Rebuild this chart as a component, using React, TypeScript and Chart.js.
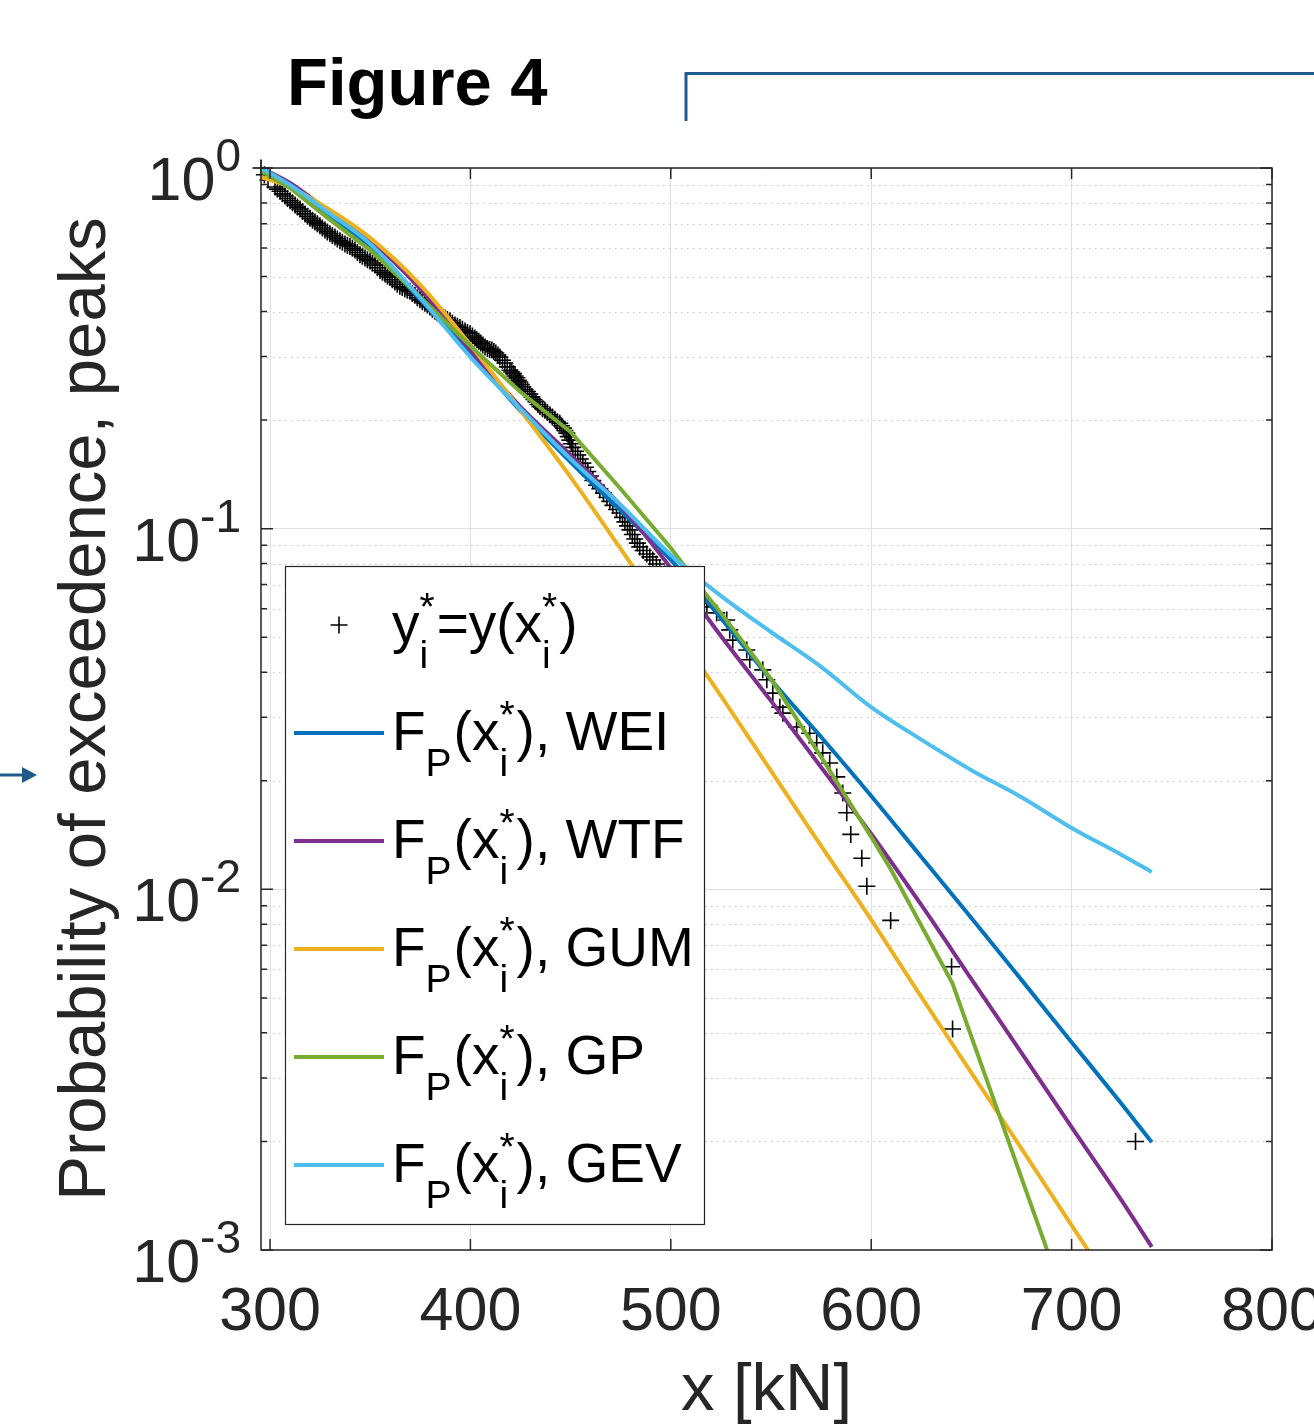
import React, { useEffect, useRef } from "react";
import { Chart, registerables } from "chart.js";

Chart.register(...registerables);

const FONT = '"Liberation Sans", Arial, Helvetica, sans-serif';

// ---- axes ----
const xTicks = [300, 400, 500, 600, 700, 800];
const xMin = 295.5;
const xMax = 800;
const yMajorTicks = [0.001, 0.01, 0.1, 1];
const yTickExponents = ["-3", "-2", "-1", "0"];
const yMinorMultipliers = [2, 3, 4, 5, 6, 7, 8, 9];

// ---- empirical exceedance points y_i* = y(x_i*), as [x, y] ----
const empXY: [number, number][] = [
  [295.5, 1.0], [297.2, 0.958], [299.0, 0.926], [302.5, 0.886], [303.7, 0.874],
  [305.0, 0.862], [306.2, 0.848], [307.5, 0.836], [308.7, 0.823], [310.0, 0.811],
  [311.2, 0.801], [312.5, 0.79], [313.7, 0.779], [315.0, 0.77], [316.2, 0.758],
  [317.5, 0.746], [318.7, 0.735], [320.0, 0.725], [321.2, 0.716], [322.4, 0.708],
  [323.6, 0.7], [324.9, 0.692], [326.1, 0.682], [327.4, 0.673], [328.6, 0.665],
  [329.9, 0.657], [331.1, 0.65], [332.4, 0.644], [333.6, 0.636], [334.9, 0.628],
  [336.1, 0.622], [337.4, 0.616], [338.6, 0.611], [339.9, 0.606], [341.1, 0.599],
  [342.4, 0.592], [343.6, 0.583], [344.9, 0.575], [346.1, 0.569], [347.4, 0.563],
  [348.6, 0.557], [349.9, 0.552], [351.1, 0.545], [352.4, 0.538], [353.6, 0.529],
  [354.9, 0.52], [356.1, 0.514], [357.4, 0.508], [358.6, 0.502], [359.8, 0.497],
  [361.0, 0.49], [362.3, 0.483], [363.5, 0.476], [364.8, 0.47], [366.0, 0.466],
  [367.3, 0.462], [368.5, 0.458], [369.8, 0.455], [371.0, 0.449], [372.3, 0.444],
  [373.5, 0.437], [374.8, 0.431], [376.0, 0.426], [377.3, 0.422], [378.5, 0.417],
  [379.8, 0.412], [381.0, 0.406], [382.3, 0.401], [383.5, 0.396], [384.8, 0.392],
  [386.0, 0.388], [387.3, 0.384], [388.5, 0.38], [389.8, 0.377], [391.0, 0.372],
  [392.3, 0.367], [393.5, 0.364], [394.8, 0.361], [396.0, 0.357], [397.3, 0.353],
  [398.5, 0.35], [399.8, 0.347], [401.0, 0.342], [402.2, 0.338], [403.2, 0.334],
  [404.2, 0.331], [405.2, 0.327], [406.2, 0.323], [407.3, 0.319], [408.5, 0.316],
  [409.6, 0.314], [410.7, 0.313], [411.7, 0.31], [412.7, 0.307], [413.7, 0.303],
  [414.7, 0.299], [416.0, 0.293], [417.2, 0.288], [418.4, 0.281], [419.7, 0.275],
  [420.6, 0.272], [421.5, 0.269], [422.3, 0.265], [423.2, 0.262], [423.9, 0.258],
  [424.7, 0.255], [425.4, 0.251], [426.2, 0.247], [427.3, 0.243], [428.5, 0.24],
  [429.6, 0.236], [430.7, 0.232], [431.7, 0.228], [432.7, 0.225], [433.7, 0.221],
  [434.7, 0.218], [436.0, 0.215], [437.2, 0.213], [438.4, 0.21], [439.7, 0.207],
  [440.9, 0.204], [442.1, 0.201], [443.3, 0.198], [444.6, 0.196], [445.5, 0.193],
  [446.4, 0.19], [447.2, 0.187], [448.1, 0.184], [448.8, 0.18], [449.6, 0.176],
  [450.3, 0.172], [451.1, 0.168], [452.4, 0.164], [453.6, 0.16], [454.9, 0.156],
  [456.1, 0.152], [457.4, 0.148], [458.6, 0.144], [459.9, 0.14], [461.1, 0.136],
  [462.9, 0.132], [464.6, 0.129], [466.4, 0.1255], [468.1, 0.122], [469.6, 0.119],
  [471.1, 0.116], [472.9, 0.113], [474.6, 0.1105], [475.9, 0.1075], [477.1, 0.1044],
  [478.4, 0.1018], [479.6, 0.0992], [480.8, 0.0963], [482.0, 0.0936], [483.3, 0.0912],
  [484.5, 0.089], [486.2, 0.087], [488.0, 0.0851], [489.5, 0.0835], [491.0, 0.0819],
  [492.8, 0.0798], [494.5, 0.0778], [497.0, 0.0749], [499.5, 0.0721], [502.0, 0.0698],
  [504.5, 0.0676], [508.2, 0.0655], [512.0, 0.0634], [515.0, 0.062], [518.0, 0.0607],
  [522.9, 0.0584], [527.9, 0.0558], [529.4, 0.0524], [530.9, 0.0491], [537.9, 0.0461],
  [539.4, 0.0433], [545.9, 0.0406], [547.9, 0.0381], [550.9, 0.035], [554.4, 0.032],
  [555.9, 0.0308], [562.8, 0.0282], [569.3, 0.0271], [572.8, 0.0255], [575.8, 0.0239],
  [579.3, 0.0224], [582.8, 0.0205], [585.8, 0.0185], [587.8, 0.0163], [589.8, 0.0142],
  [595.3, 0.0122], [597.8, 0.0102], [609.7, 0.0082], [640.1, 0.0061], [640.6, 0.0041],
  [731.9, 0.002],
];

// ---- fitted distributions F_P(x_i*) ----
const fitX = [
  295.5, 310, 330, 350, 375, 400, 425, 450, 475, 500,
  525, 550, 575, 600, 625, 650, 675, 700, 725, 740,
];
const weiY = [
  1.0, 0.903, 0.736, 0.604, 0.431, 0.305, 0.212, 0.153, 0.112, 0.0819,
  0.0565, 0.0381, 0.02644, 0.01815, 0.0123, 0.00833, 0.00561, 0.00377, 0.00254, 0.00199,
];
const wtfY = [
  1.0, 0.909, 0.755, 0.631, 0.462, 0.313, 0.2176, 0.16, 0.1156, 0.0778,
  0.0504, 0.0333, 0.0218, 0.01424, 0.00905, 0.00564, 0.00352, 0.00219, 0.00137, 0.00102,
];
const gumY = [
  0.944, 0.886, 0.765, 0.64, 0.474, 0.323, 0.213, 0.139, 0.0879, 0.0551,
  0.0344, 0.0213, 0.0132, 0.00823, 0.00503, 0.0031, 0.00191, 0.00117, 0.000722, 0.000535,
];
const gevY = [
  1.0, 0.897, 0.746, 0.616, 0.436, 0.299, 0.2147, 0.156, 0.1163, 0.0845,
  0.0651, 0.0517, 0.0414, 0.032, 0.026, 0.0214, 0.018, 0.0148, 0.01246, 0.01117,
];
const gpX = [
  295.5, 310, 330, 350, 375, 400, 425, 450, 475, 500,
  517, 525, 550, 575, 600, 609.7, 640.5, 740,
];
const gpY = [
  0.98, 0.88, 0.718, 0.592, 0.439, 0.321, 0.2393, 0.1853, 0.1288, 0.0884,
  0.0663, 0.0584, 0.0383, 0.0233, 0.01397, 0.01139, 0.0055, 0.000152,
];

const legendNames = ["WEI", "WTF", "GUM", "GP", "GEV"];
const seriesColors = ["#0072BD", "#7E2F8E", "#EDB120", "#77AC30", "#4DBEEE"];

const pts = (xs: number[], ys: number[]) => xs.map((x, i) => ({ x, y: ys[i] }));

type Part = { t?: string; sub?: string; sup?: string };

function drawRich(ctx: CanvasRenderingContext2D, x0: number, base: number, parts: Part[]) {
  const big = `55px ${FONT}`;
  const small = `39px ${FONT}`;
  let x = x0;
  ctx.textAlign = "left";
  ctx.textBaseline = "alphabetic";
  for (const p of parts) {
    if (p.t !== undefined) {
      ctx.font = big;
      ctx.fillText(p.t, x, base);
      x += ctx.measureText(p.t).width;
    } else {
      ctx.font = small;
      let w = 0;
      if (p.sub) {
        ctx.fillText(p.sub, x, base + 26);
        w = Math.max(w, ctx.measureText(p.sub).width);
      }
      if (p.sup) {
        ctx.fillText(p.sup, x, base - 22);
        w = Math.max(w, ctx.measureText(p.sup).width);
      }
      x += w + 2;
    }
  }
}

const decor = {
  id: "decor",
  beforeDatasetsDraw(chart: any) {
    const { ctx, chartArea: a, scales } = chart;
    const y = scales.y;
    ctx.save();
    ctx.beginPath();
    ctx.rect(a.left, a.top, a.right - a.left, a.bottom - a.top);
    ctx.clip();
    ctx.strokeStyle = "#c2c2c2";
    ctx.lineWidth = 1.2;
    ctx.setLineDash([1.5, 4.5]);
    for (const d of yMajorTicks.slice(0, 3)) {
      for (const m of yMinorMultipliers) {
        const py = Math.round(y.getPixelForValue(d * m)) + 0.5;
        ctx.beginPath();
        ctx.moveTo(a.left, py);
        ctx.lineTo(a.right, py);
        ctx.stroke();
      }
    }
    ctx.restore();
  },
  afterDatasetsDraw(chart: any) {
    const { ctx, chartArea: a, scales } = chart;
    const x = scales.x;
    const y = scales.y;
    ctx.save();
    ctx.strokeStyle = "#262626";
    ctx.lineWidth = 1.5;
    ctx.setLineDash([]);
    ctx.strokeRect(a.left, a.top, a.right - a.left, a.bottom - a.top);
    ctx.beginPath();
    for (const v of yMajorTicks) {
      const py = y.getPixelForValue(v);
      ctx.moveTo(a.left, py); ctx.lineTo(a.left + 12, py);
      ctx.moveTo(a.right, py); ctx.lineTo(a.right - 12, py);
    }
    for (const d of yMajorTicks.slice(0, 3)) {
      for (const m of yMinorMultipliers) {
        const py = y.getPixelForValue(d * m);
        ctx.moveTo(a.left, py); ctx.lineTo(a.left + 6, py);
        ctx.moveTo(a.right, py); ctx.lineTo(a.right - 6, py);
      }
    }
    for (const v of xTicks) {
      const px = x.getPixelForValue(v);
      ctx.moveTo(px, a.bottom); ctx.lineTo(px, a.bottom - 11);
      ctx.moveTo(px, a.top); ctx.lineTo(px, a.top + 11);
    }
    ctx.stroke();
    ctx.restore();
  },
  afterDraw(chart: any) {
    const { ctx, chartArea: a, scales } = chart;
    const x = scales.x;
    const y = scales.y;
    ctx.save();
    ctx.fillStyle = "#262626";
    ctx.textBaseline = "alphabetic";
    // y tick labels 10^n
    yMajorTicks.forEach((v, i) => {
      const py = y.getPixelForValue(v);
      const ex = yTickExponents[i];
      ctx.font = `46px ${FONT}`;
      const ew = ctx.measureText(ex).width;
      ctx.textAlign = "left";
      ctx.fillText(ex, 241 - ew, py + 3);
      ctx.font = `61px ${FONT}`;
      const bw = ctx.measureText("10").width;
      ctx.fillText("10", 241 - ew - bw, py + 32);
    });
    // x tick labels
    ctx.font = `61px ${FONT}`;
    ctx.textAlign = "center";
    for (const v of xTicks) {
      ctx.fillText(String(v), x.getPixelForValue(v), a.bottom + 80);
    }
    // axis titles
    ctx.font = `67px ${FONT}`;
    ctx.fillText("x [kN]", (a.left + a.right) / 2, a.bottom + 160);
    ctx.save();
    ctx.translate(105, (a.top + a.bottom) / 2);
    ctx.rotate(-Math.PI / 2);
    ctx.textAlign = "center";
    ctx.fillText("Probability of exceedence, peaks", 0, 0);
    ctx.restore();
    // figure label
    ctx.fillStyle = "#000";
    ctx.font = `bold 67px ${FONT}`;
    ctx.textAlign = "left";
    ctx.fillText("Figure 4", 287, 105);
    // annotation bracket and arrow
    ctx.strokeStyle = "#1f5b8d";
    ctx.fillStyle = "#1f5b8d";
    ctx.lineWidth = 3;
    ctx.beginPath();
    ctx.moveTo(686, 121);
    ctx.lineTo(686, 73.5);
    ctx.lineTo(1314, 73.5);
    ctx.stroke();
    ctx.beginPath();
    ctx.moveTo(0, 775);
    ctx.lineTo(26, 775);
    ctx.stroke();
    ctx.beginPath();
    ctx.moveTo(22, 767);
    ctx.lineTo(37, 775);
    ctx.lineTo(22, 783);
    ctx.closePath();
    ctx.fill();
    // legend
    const L = 285, T = 566, R = 704, B = 1224;
    ctx.fillStyle = "#fff";
    ctx.fillRect(L, T, R - L, B - T);
    ctx.strokeStyle = "#262626";
    ctx.lineWidth = 1.2;
    ctx.strokeRect(L + 0.5, T + 0.5, R - L, B - T);
    // marker entry
    ctx.strokeStyle = "#000";
    ctx.lineWidth = 1.6;
    ctx.beginPath();
    ctx.moveTo(339 - 8.5, 625); ctx.lineTo(339 + 8.5, 625);
    ctx.moveTo(339, 625 - 8.5); ctx.lineTo(339, 625 + 8.5);
    ctx.stroke();
    ctx.fillStyle = "#000";
    drawRich(ctx, 392, 642, [
      { t: "y" }, { sub: "i", sup: "*" }, { t: "=y(x" }, { sub: "i", sup: "*" }, { t: ")" },
    ]);
    legendNames.forEach((name, i) => {
      const ly = 733 + i * 108;
      ctx.strokeStyle = seriesColors[i];
      ctx.lineWidth = 4;
      ctx.beginPath();
      ctx.moveTo(294, ly);
      ctx.lineTo(384, ly);
      ctx.stroke();
      ctx.fillStyle = "#000";
      drawRich(ctx, 392, ly + 17, [
        { t: "F" }, { sub: "P" }, { t: "(x" }, { sub: "i", sup: "*" }, { t: "), " + name },
      ]);
    });
    ctx.restore();
  },
};

export default function App() {
  const ref = useRef<HTMLCanvasElement>(null);
  useEffect(() => {
    const canvas = ref.current!;
    const fitSeries = [weiY, wtfY, gumY, null, gevY];
    const datasets: any[] = [
      {
        label: "empirical",
        data: empXY.map(([x, y]) => ({ x, y })),
        showLine: false,
        pointStyle: "cross",
        pointRadius: 8.5,
        pointBorderColor: "#000",
        pointBackgroundColor: "#000",
        pointBorderWidth: 1.6,
        borderColor: "#000",
        clip: false,
        order: 10,
      },
    ];
    legendNames.forEach((name, i) => {
      const ys = fitSeries[i];
      datasets.push({
        label: name,
        data: ys ? pts(fitX, ys) : pts(gpX, gpY),
        borderColor: seriesColors[i],
        borderWidth: 4,
        pointRadius: 0,
        tension: 0,
        cubicInterpolationMode: ys ? "monotone" : "default",
        fill: false,
        clip: 0,
        order: 5 - i,
      });
    });
    const chart = new Chart(canvas, {
      type: "line",
      data: { datasets },
      options: {
        animation: false,
        responsive: false,
        devicePixelRatio: 1,
        events: [],
        layout: { padding: { left: 261, top: 168, right: 42, bottom: 176 } },
        plugins: { legend: { display: false }, tooltip: { enabled: false } },
        scales: {
          x: {
            type: "linear",
            min: xMin,
            max: xMax,
            afterBuildTicks: (s: any) => {
              s.ticks = xTicks.map((v) => ({ value: v }));
            },
            afterFit: (s: any) => {
              s.height = 0;
            },
            ticks: { display: false },
            grid: { color: "#e0e0e0", lineWidth: 1, drawTicks: false },
            border: { display: false },
          },
          y: {
            type: "logarithmic",
            min: 0.001,
            max: 1,
            afterBuildTicks: (s: any) => {
              s.ticks = yMajorTicks.map((v) => ({ value: v }));
            },
            afterFit: (s: any) => {
              s.width = 0;
            },
            ticks: { display: false },
            grid: { color: "#e0e0e0", lineWidth: 1, drawTicks: false },
            border: { display: false },
          },
        },
      } as any,
      plugins: [decor],
    });
    return () => chart.destroy();
  }, []);
  return (
    <div style={{ position: "absolute", left: 0, top: 0, width: 1314, height: 1426, background: "#fff" }}>
      <canvas ref={ref} width={1314} height={1426} style={{ display: "block" }} />
    </div>
  );
}
